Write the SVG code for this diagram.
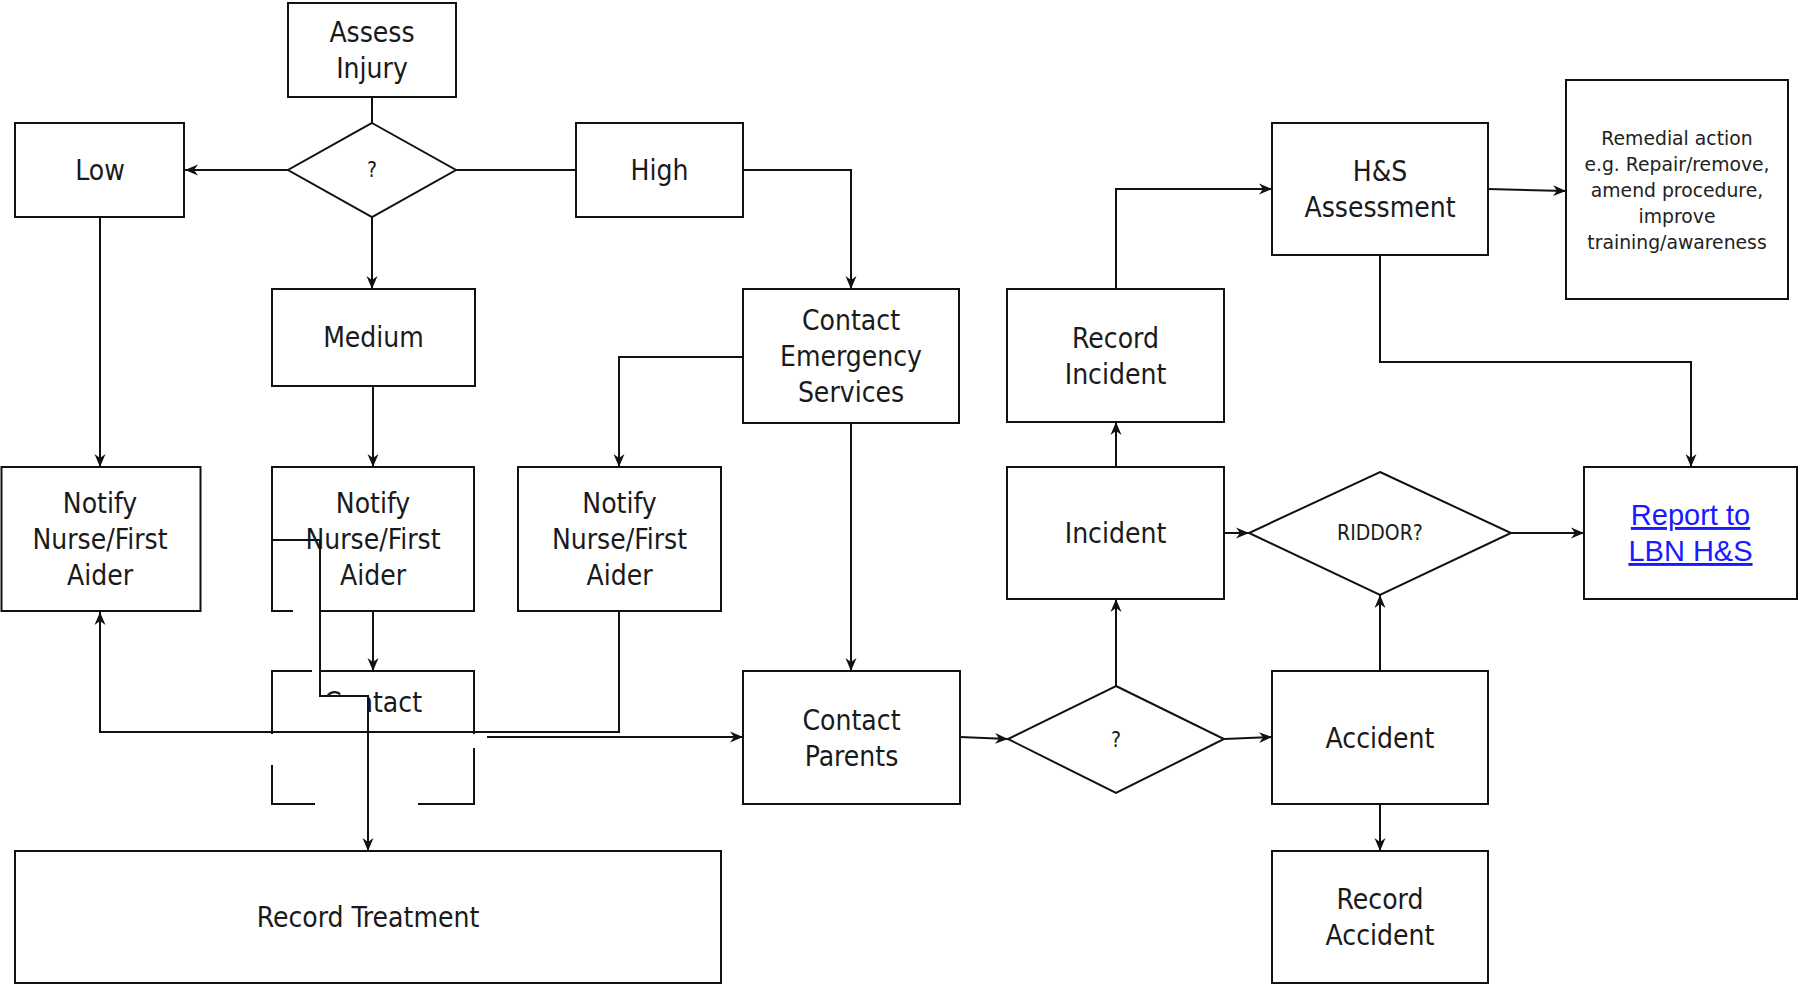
<svg xmlns="http://www.w3.org/2000/svg" width="1798" height="986" viewBox="0 0 1798 986">
<style>
.n{fill:#fff;stroke:#111;stroke-width:2}
.t{font-family:"DejaVu Sans Condensed","DejaVu Sans",sans-serif;font-stretch:condensed;font-size:28px;fill:#1a1a1a;text-anchor:middle}
.s{font-family:"DejaVu Sans Condensed","DejaVu Sans",sans-serif;font-stretch:condensed;font-size:21px;fill:#1a1a1a;text-anchor:middle}
.r{font-family:"DejaVu Sans",sans-serif;font-size:18.8px;fill:#222;text-anchor:middle}
.l{font-family:"Liberation Sans",Arial,sans-serif;font-size:29px;fill:#1a1aff;text-anchor:middle;text-decoration:underline}
.c{fill:none;stroke:#111;stroke-width:2}
.w{fill:#fff;stroke:none}
</style>
<defs>
<marker id="arr" markerUnits="userSpaceOnUse" markerWidth="14" markerHeight="12" refX="13" refY="6" orient="auto">
<path d="M0,0.5 L13,6 L0,11.5 L4,6 Z" fill="#111"/>
</marker>
</defs>
<rect width="1798" height="986" fill="#fff"/>
<g id="nodes">
<g id="assess"><rect class="n" x="288" y="3" width="168" height="94"/><text class="t" x="372" y="41.5">Assess</text><text class="t" x="372" y="77.5">Injury</text></g>
<g id="q1"><polygon class="n" points="372,123 456,170 372,217 288,170"/><text class="s" x="372" y="177">?</text></g>
<g id="low"><rect class="n" x="15" y="123" width="169" height="94"/><text class="t" x="100" y="180">Low</text></g>
<g id="high"><rect class="n" x="576" y="123" width="167" height="94"/><text class="t" x="659.5" y="180">High</text></g>
<g id="medium"><rect class="n" x="272" y="289" width="203" height="97"/><text class="t" x="373.5" y="347">Medium</text></g>
<g id="ces"><rect class="n" x="743" y="289" width="216" height="134"/><text class="t" x="851" y="330">Contact</text><text class="t" x="851" y="366">Emergency</text><text class="t" x="851" y="402">Services</text></g>
<g id="recinc"><rect class="n" x="1007" y="289" width="217" height="133"/><text class="t" x="1115.5" y="348">Record</text><text class="t" x="1115.5" y="384">Incident</text></g>
<g id="hs"><rect class="n" x="1272" y="123" width="216" height="132"/><text class="t" x="1380" y="181">H&amp;S</text><text class="t" x="1380" y="217">Assessment</text></g>
<g id="remedial"><rect class="n" x="1566" y="80" width="222" height="219"/><text class="r" x="1677" y="144.5">Remedial action</text><text class="r" x="1677" y="170.5">e.g. Repair/remove,</text><text class="r" x="1677" y="196.5">amend procedure,</text><text class="r" x="1677" y="222.5">improve</text><text class="r" x="1677" y="248.5">training/awareness</text></g>
<g id="notify1"><rect class="n" x="1.5" y="467" width="199" height="144"/><text class="t" x="100" y="513">Notify</text><text class="t" x="100" y="549">Nurse/First</text><text class="t" x="100" y="585">Aider</text></g>
<g id="notify2"><rect class="n" x="272" y="467" width="202" height="144"/><text class="t" x="373" y="513">Notify</text><text class="t" x="373" y="549">Nurse/First</text><text class="t" x="373" y="585">Aider</text></g>
<g id="notify3"><rect class="n" x="518" y="467" width="203" height="144"/><text class="t" x="619.5" y="513">Notify</text><text class="t" x="619.5" y="549">Nurse/First</text><text class="t" x="619.5" y="585">Aider</text></g>
<g id="incident"><rect class="n" x="1007" y="467" width="217" height="132"/><text class="t" x="1115.5" y="543">Incident</text></g>
<g id="riddor"><polygon class="n" points="1380,472 1511,533 1380,595 1249,533"/><text class="s" x="1380" y="540">RIDDOR?</text></g>
<g id="report"><rect class="n" x="1584" y="467" width="213" height="132"/><text class="l" x="1690.5" y="525">Report to</text><text class="l" x="1690.5" y="561">LBN H&amp;S</text></g>
<g id="contact"><rect class="n" x="272" y="671" width="202" height="133"/><text class="t" x="373" y="711.5">Contact</text></g>
<g id="parents"><rect class="n" x="743" y="671" width="217" height="133"/><text class="t" x="851.5" y="729.5">Contact</text><text class="t" x="851.5" y="765.5">Parents</text></g>
<g id="q2"><polygon class="n" points="1116,686 1224,739 1116,793 1008,739"/><text class="s" x="1116" y="747">?</text></g>
<g id="accident"><rect class="n" x="1272" y="671" width="216" height="133"/><text class="t" x="1380" y="747.5">Accident</text></g>
<g id="recacc"><rect class="n" x="1272" y="851" width="216" height="132"/><text class="t" x="1380" y="909">Record</text><text class="t" x="1380" y="945">Accident</text></g>
<g id="rectreat"><rect class="n" x="15" y="851" width="706" height="132"/><text class="t" x="368" y="927">Record Treatment</text></g>
</g>
<g id="occlusion">
<rect class="w" x="293" y="606" width="26" height="9"/>
<rect class="w" x="312" y="667" width="7" height="9"/>
<rect class="w" x="321" y="697" width="46" height="34"/>
<rect class="w" x="266" y="734" width="14" height="31"/>
<rect class="w" x="466" y="734" width="14" height="14"/>
<rect class="w" x="315" y="798" width="103" height="12"/>
</g>
<g id="connectors">
<path class="c" d="M372,97 V123"/>
<path class="c" d="M288,170 H185" marker-end="url(#arr)"/>
<path class="c" d="M456,170 H576"/>
<path class="c" d="M372,217 V289" marker-end="url(#arr)"/>
<path class="c" d="M743,170 H851 V289" marker-end="url(#arr)"/>
<path class="c" d="M100,217 V467" marker-end="url(#arr)"/>
<path class="c" d="M373,386 V467" marker-end="url(#arr)"/>
<path class="c" d="M743,357 H619 V467" marker-end="url(#arr)"/>
<path class="c" d="M851,423 V671" marker-end="url(#arr)"/>
<path class="c" d="M373,611 V671" marker-end="url(#arr)"/>
<path class="c" d="M619,611 V732 H100 V612" marker-end="url(#arr)"/>
<path class="c" d="M272,540 H320 V696 H368 V851" marker-end="url(#arr)"/>
<path class="c" d="M487,737 H743" marker-end="url(#arr)"/>
<path class="c" d="M960,737 L1008,739" marker-end="url(#arr)"/>
<path class="c" d="M1224,739 L1272,737" marker-end="url(#arr)"/>
<path class="c" d="M1116,686 V599" marker-end="url(#arr)"/>
<path class="c" d="M1380,671 V595" marker-end="url(#arr)"/>
<path class="c" d="M1380,804 V851" marker-end="url(#arr)"/>
<path class="c" d="M1116,467 V422" marker-end="url(#arr)"/>
<path class="c" d="M1224,533 H1249" marker-end="url(#arr)"/>
<path class="c" d="M1511,533 H1584" marker-end="url(#arr)"/>
<path class="c" d="M1116,289 V189 H1272" marker-end="url(#arr)"/>
<path class="c" d="M1488,189 L1566,191" marker-end="url(#arr)"/>
<path class="c" d="M1380,255 V362 H1691 V467" marker-end="url(#arr)"/>
</g>
</svg>
